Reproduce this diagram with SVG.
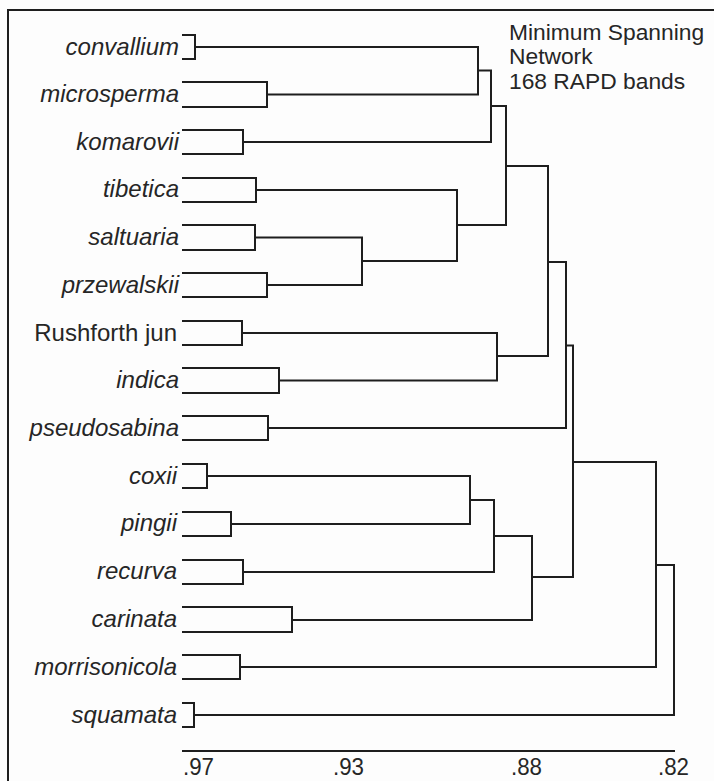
<svg xmlns="http://www.w3.org/2000/svg" width="714" height="781" viewBox="0 0 714 781">
  <style>
    .ln { fill: none; stroke: #1e1e1e; stroke-width: 2; stroke-linejoin: miter; stroke-linecap: square; }
    .lab { font-family: "Liberation Sans", Arial, sans-serif; font-size: 24px; font-style: italic; fill: #262626; text-anchor: end; }
    .lab.up { font-style: normal; }
    .ttl { font-family: "Liberation Sans", Arial, sans-serif; font-size: 22.8px; fill: #262626; }
    .tick { font-family: "Liberation Sans", Arial, sans-serif; font-size: 23px; fill: #262626; }
  </style>
  <rect width="714" height="781" fill="#fdfdfd"/>
  <!-- frame: only top and left edges fall inside the view -->
  <path class="ln" d="M8,781 V10 H714"/>

  <!-- title -->
  <g id="title" class="ttl">
    <text x="509" y="40">Minimum Spanning</text>
    <text x="509" y="64">Network</text>
    <text x="509" y="89">168 RAPD bands</text>
  </g>

  <!-- leaves: bracket + label -->
  <g id="leaf-convallium"><path class="ln" d="M183,35 H195 V59 H183"/><text class="lab" x="179" y="55">convallium</text></g>
  <g id="leaf-microsperma"><path class="ln" d="M183,82 H267 V107 H183"/><text class="lab" x="179" y="102">microsperma</text></g>
  <g id="leaf-komarovii"><path class="ln" d="M183,130 H243 V154 H183"/><text class="lab" x="179" y="150">komarovii</text></g>
  <g id="leaf-tibetica"><path class="ln" d="M183,178 H256 V202 H183"/><text class="lab" x="179" y="197">tibetica</text></g>
  <g id="leaf-saltuaria"><path class="ln" d="M183,225 H255 V250 H183"/><text class="lab" x="179" y="245">saltuaria</text></g>
  <g id="leaf-przewalskii"><path class="ln" d="M183,273 H267 V297 H183"/><text class="lab" x="179" y="293">przewalskii</text></g>
  <g id="leaf-rushforth"><path class="ln" d="M183,321 H242 V345 H183"/><text class="lab up" x="177" y="341">Rushforth jun</text></g>
  <g id="leaf-indica"><path class="ln" d="M183,368 H279 V393 H183"/><text class="lab" x="179" y="388">indica</text></g>
  <g id="leaf-pseudosabina"><path class="ln" d="M183,416 H268 V440 H183"/><text class="lab" x="179" y="436">pseudosabina</text></g>
  <g id="leaf-coxii"><path class="ln" d="M183,464 H207 V488 H183"/><text class="lab" x="177" y="484">coxii</text></g>
  <g id="leaf-pingii"><path class="ln" d="M183,512 H231 V536 H183"/><text class="lab" x="177" y="531">pingii</text></g>
  <g id="leaf-recurva"><path class="ln" d="M183,560 H243 V584 H183"/><text class="lab" x="177" y="579">recurva</text></g>
  <g id="leaf-carinata"><path class="ln" d="M183,607 H292 V632 H183"/><text class="lab" x="177" y="627">carinata</text></g>
  <g id="leaf-morrisonicola"><path class="ln" d="M183,655 H240 V679 H183"/><text class="lab" x="177" y="675">morrisonicola</text></g>
  <g id="leaf-squamata"><path class="ln" d="M183,703 H194 V727 H183"/><text class="lab" x="177" y="723">squamata</text></g>

  <!-- joins between clusters -->
  <g id="connectors">
    <path class="ln" d="M195,47 H478 V94.5 H267"/>
    <path class="ln" d="M478,70.5 H491 V142 H243"/>
    <path class="ln" d="M255,237.5 H362 V285 H267"/>
    <path class="ln" d="M256,190 H457 V261 H362"/>
    <path class="ln" d="M491,106 H506 V225 H457"/>
    <path class="ln" d="M242,333 H497 V380.5 H279"/>
    <path class="ln" d="M506,166 H548 V356 H497"/>
    <path class="ln" d="M548,262 H566 V428 H268"/>
    <path class="ln" d="M207,476 H470 V524 H231"/>
    <path class="ln" d="M470,500 H494 V572 H243"/>
    <path class="ln" d="M494,536 H532 V620 H292"/>
    <path class="ln" d="M566,345.5 H573 V577 H532"/>
    <path class="ln" d="M573,462 H656 V667 H240"/>
    <path class="ln" d="M656,565 H674 V715 H194"/>
  </g>

  <!-- similarity axis -->
  <g id="axis">
    <path class="ln" d="M183,751 H674"/>
    <text class="tick" x="183" y="775" textLength="31" lengthAdjust="spacingAndGlyphs">.97</text>
    <text class="tick" x="333" y="775" textLength="31" lengthAdjust="spacingAndGlyphs">.93</text>
    <text class="tick" x="511" y="775" textLength="31" lengthAdjust="spacingAndGlyphs">.88</text>
    <text class="tick" x="658" y="775" textLength="31" lengthAdjust="spacingAndGlyphs">.82</text>
  </g>
</svg>
